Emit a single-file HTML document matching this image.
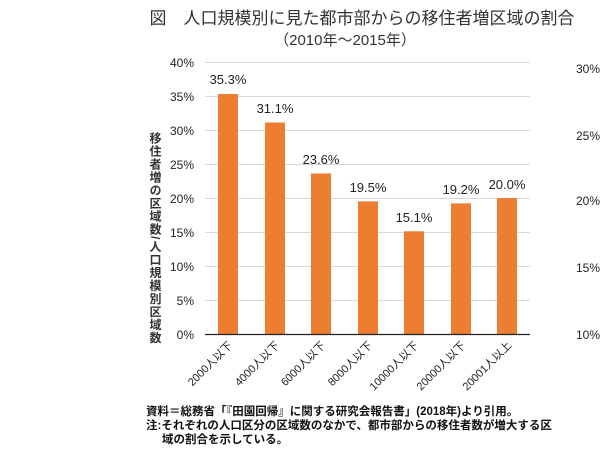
<!DOCTYPE html><html><head><meta charset="utf-8"><style>body{margin:0;background:#fff}svg{display:block}text{font-family:"Liberation Sans","Noto Sans CJK JP",sans-serif}</style></head><body>
<svg width="600" height="450" xmlns="http://www.w3.org/2000/svg">
<text x="362" y="24" font-size="17" text-anchor="middle" fill="#333">図　人口規模別に見た都市部からの移住者増区域の割合</text>
<text x="345" y="45" font-size="15" text-anchor="middle" fill="#333">（2010年～2015年）</text>
<g stroke="#d9d9d9" stroke-width="1">
<line x1="205" x2="530" y1="62.5" y2="62.5"/><line x1="205" x2="530" y1="96.5" y2="96.5"/><line x1="205" x2="530" y1="130.5" y2="130.5"/><line x1="205" x2="530" y1="164.5" y2="164.5"/><line x1="205" x2="530" y1="198.5" y2="198.5"/><line x1="205" x2="530" y1="232.5" y2="232.5"/><line x1="205" x2="530" y1="266.5" y2="266.5"/><line x1="205" x2="530" y1="300.5" y2="300.5"/>
</g>
<g font-size="12" fill="#222" text-anchor="end">
<text x="194" y="67">40%</text><text x="194" y="101">35%</text><text x="194" y="135">30%</text><text x="194" y="169">25%</text><text x="194" y="203">20%</text><text x="194" y="237">15%</text><text x="194" y="271">10%</text><text x="194" y="305">5%</text><text x="194" y="339">0%</text>
</g>
<g font-size="12" fill="#222">
<text x="576" y="73">30%</text><text x="576" y="140">25%</text><text x="576" y="205">20%</text><text x="576" y="272">15%</text><text x="576" y="339">10%</text>
</g>
<g fill="#ed7d31">
<rect x="218" y="94" width="20" height="240"/>
<rect x="265" y="122.5" width="20" height="211.5"/>
<rect x="311" y="173.5" width="20" height="160.5"/>
<rect x="358" y="201.4" width="20" height="132.6"/>
<rect x="404" y="231.3" width="20" height="102.7"/>
<rect x="451" y="203.4" width="20" height="130.6"/>
<rect x="497" y="198" width="20" height="136"/>
</g>
<line x1="205" x2="530" y1="334.5" y2="334.5" stroke="#222" stroke-width="1.2"/>
<g font-size="13" fill="#222" text-anchor="middle">
<text x="228" y="84">35.3%</text><text x="275" y="113">31.1%</text><text x="321" y="164">23.6%</text><text x="368" y="192">19.5%</text><text x="414" y="222">15.1%</text><text x="461" y="194">19.2%</text><text x="507" y="189">20.0%</text>
</g>
<g font-size="11" fill="#222" text-anchor="end">
<text transform="translate(233,346) rotate(-45)">2000人以下</text>
<text transform="translate(280,346) rotate(-45)">4000人以下</text>
<text transform="translate(326,346) rotate(-45)">6000人以下</text>
<text transform="translate(373,346) rotate(-45)">8000人以下</text>
<text transform="translate(419,346) rotate(-45)">10000人以下</text>
<text transform="translate(466,346) rotate(-45)">20000人以下</text>
<text transform="translate(512,346) rotate(-45)">20001人以上</text>
</g>
<text font-size="12" font-weight="bold" fill="#333" x="155" y="132" style="writing-mode:vertical-rl;letter-spacing:1px">移住者増の区域数/人口規模別区域数</text>
<g font-size="11.5" font-weight="bold" fill="#111">
<text x="146" y="415">資料＝総務省「『田園回帰』に関する研究会報告書」(2018年)より引用。</text>
<text x="146" y="429">注:それぞれの人口区分の区域数のなかで、都市部からの移住者数が増大する区</text>
<text x="162" y="443">域の割合を示している。</text>
</g>
</svg></body></html>
